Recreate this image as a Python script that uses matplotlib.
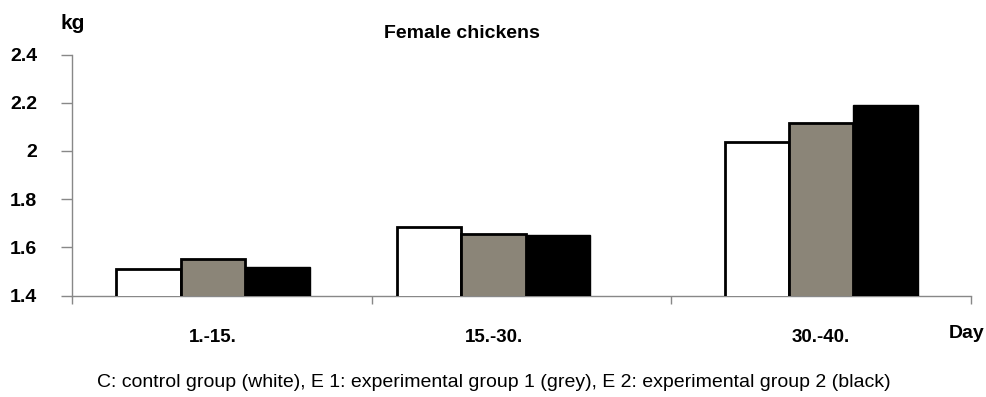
import matplotlib
matplotlib.use("Agg")
import matplotlib.pyplot as plt
import numpy as np

categories = ["1.-15.", "15.-30.", "30.-40."]
control = [1.51, 1.684, 2.036]
exp1 = [1.552, 1.657, 2.118]
exp2 = [1.517, 1.653, 2.192]

# layout (group centres in category units, as in the reference)
group_centers = np.array([-0.03, 0.907, 2.0])
width = 0.215

font = "Liberation Sans"

fig = plt.figure(figsize=(9.87, 3.97), dpi=100)
ax = fig.add_axes([0.073, 0.2552, 0.9108, 0.6075])

ax.bar(group_centers - width, control, width, color="white", edgecolor="black", linewidth=2, zorder=3)
ax.bar(group_centers, exp1, width, color="#8b8578", edgecolor="black", linewidth=2, zorder=3)
ax.bar(group_centers + width, exp2, width, color="black", edgecolor="black", linewidth=1, zorder=3)

ax.set_ylim(1.4, 2.4)
ax.set_xlim(-0.5, 2.5)
ax.set_yticks([1.4, 1.6, 1.8, 2.0, 2.2, 2.4])
ax.set_yticklabels(["1.4", "1.6", "1.8", "2", "2.2", "2.4"])
for t in ax.get_yticklabels():
    t.set_fontfamily(font)
    t.set_fontweight("bold")
    t.set_fontsize(14)
ax.tick_params(axis="y", length=8, width=1, color="#888888", pad=17)

ax.set_xticks(group_centers)
ax.set_xticklabels(categories, fontsize=13.5, fontweight="bold", family=font)
ax.tick_params(axis="x", which="major", length=0, pad=24)
ax.set_xticks([-0.5, 0.5, 1.5, 2.5], minor=True)
ax.tick_params(axis="x", which="minor", length=6, width=1, color="#888888")

for s in ["top", "right"]:
    ax.spines[s].set_visible(False)
for s in ["left", "bottom"]:
    ax.spines[s].set_color("#888888")
    ax.spines[s].set_linewidth(1)

fig.text(0.0615, 0.94, "kg", fontsize=15, fontweight="bold", family=font, ha="left", va="center")
fig.text(0.468, 0.915, "Female chickens", fontsize=14, fontweight="bold", family=font, ha="center", va="center")
fig.text(0.979, 0.16, "Day", fontsize=14, fontweight="bold", family=font, ha="center", va="center")
fig.text(0.5, 0.037, "C: control group (white), E 1: experimental group 1 (grey), E 2: experimental group 2 (black)",
         fontsize=14, family=font, ha="center", va="center")

fig.savefig("out.png", dpi=100)
